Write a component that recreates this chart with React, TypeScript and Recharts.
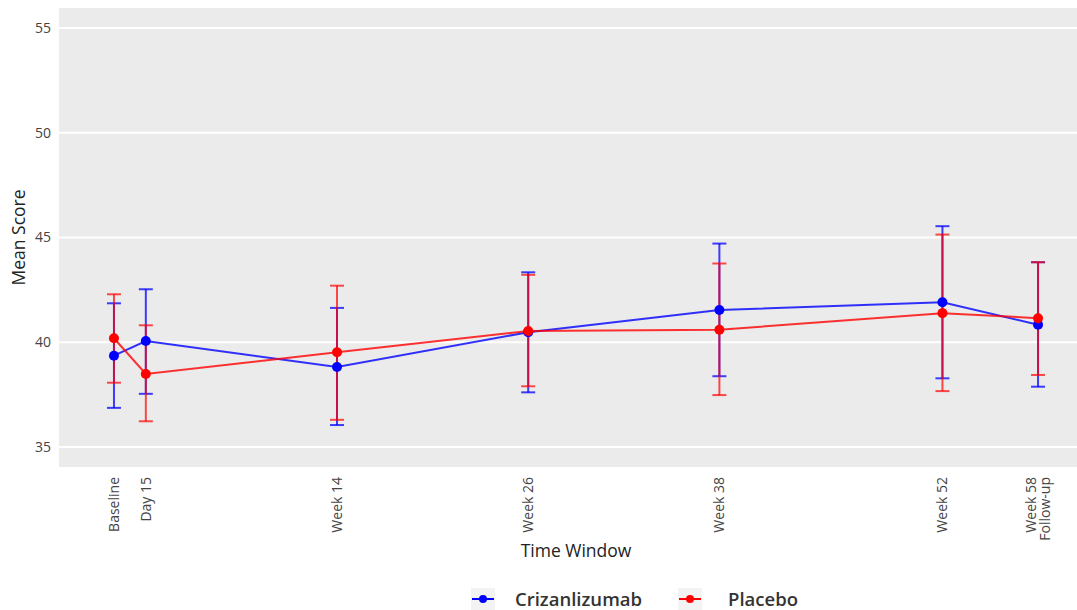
import React from 'react';
import {
  ComposedChart,
  Line,
  ErrorBar,
  XAxis,
  YAxis,
  CartesianGrid,
} from 'recharts';

const weeks = [0, 2, 14, 26, 38, 52, 58];
const tickLabels = ['Baseline', 'Day 15', 'Week 14', 'Week 26', 'Week 38', 'Week 52', 'Week 58\nFollow-up'];

const crizMean = [39.36, 40.06, 38.82, 40.48, 41.54, 41.91, 40.84];
const crizLower = [36.87, 37.54, 36.05, 37.61, 38.38, 38.28, 37.88];
const crizUpper = [41.86, 42.53, 41.64, 43.34, 44.71, 45.54, 43.82];

const placMean = [40.19, 38.49, 39.52, 40.54, 40.6, 41.39, 41.15];
const placLower = [38.07, 36.23, 36.3, 37.9, 37.48, 37.67, 38.44];
const placUpper = [42.29, 40.81, 42.7, 43.22, 43.76, 45.14, 43.82];

const yTicks = [35, 40, 45, 50, 55];

const BLUE = '#0000ff';
const RED = '#ff0000';
const FONT = '"Open Sans", "Noto Sans", sans-serif';

const chartData = weeks.map((w, i) => ({
  week: w,
  criz: crizMean[i],
  crizErr: [crizMean[i] - crizLower[i], crizUpper[i] - crizMean[i]],
  plac: placMean[i],
  placErr: [placMean[i] - placLower[i], placUpper[i] - placMean[i]],
}));

const XTick = (props: any) => {
  const { x, y, payload } = props;
  const idx = weeks.indexOf(payload.value);
  const lines = (tickLabels[idx] ?? '').split('\n');
  const start = -((lines.length - 1) * 1.0) / 2;
  return (
    <g transform={`translate(${x},${y + 1}) rotate(-90)`}>
      <text textAnchor="end" fill="#444" fontSize={14} fontFamily={FONT}>
        {lines.map((l, i) => (
          <tspan key={i} x={0} dy={i === 0 ? `${start + 0.35}em` : '1.0em'}>
            {l}
          </tspan>
        ))}
      </text>
    </g>
  );
};

const LegendIcon = ({ color }: { color: string }) => (
  <svg width={24} height={22} style={{ display: 'block' }}>
    <rect x={0} y={0} width={24} height={22} fill="#f3f3f3" />
    <line x1={1} y1={11} x2={23} y2={11} stroke={color} strokeWidth={2} />
    <circle cx={12} cy={11} r={4} fill={color} />
  </svg>
);

const App: React.FC = () => {
  return (
    <div
      style={{
        position: 'absolute',
        left: 0,
        top: 0,
        width: 1077,
        height: 610,
        overflow: 'hidden',
        background: '#fff',
        fontFamily: FONT,
      }}
    >
      <ComposedChart
        width={1093}
        height={610}
        data={chartData}
        margin={{ top: 7, right: 0, left: 0, bottom: 0 }}
      >
        <CartesianGrid
          horizontal
          vertical={false}
          stroke="#ffffff"
          strokeWidth={2}
          fill="#ebebeb"
          fillOpacity={1}
        />
        <XAxis
          dataKey="week"
          type="number"
          domain={[-3.45, 61.45]}
          ticks={weeks}
          interval={0}
          height={142}
          axisLine={false}
          tickLine={false}
          tickSize={6}
          tick={<XTick />}
          label={{
            value: 'Time Window',
            position: 'insideBottom',
            offset: 53,
            fill: '#222',
            fontSize: 17.5,
            fontFamily: FONT,
          }}
        />
        <YAxis
          type="number"
          domain={[34, 56]}
          ticks={yTicks}
          width={59}
          axisLine={false}
          tickLine={false}
          tick={{ fontSize: 14, fill: '#444', fontFamily: FONT }}
          label={{
            value: 'Mean Score',
            angle: -90,
            position: 'insideLeft',
            offset: 19,
            fill: '#222',
            fontSize: 17.5,
            fontFamily: FONT,
            style: { textAnchor: 'middle' },
          }}
        />
        <Line
          type="linear"
          dataKey="criz"
          stroke={BLUE}
          strokeOpacity={0.8}
          strokeWidth={2}
          dot={{ r: 5, fill: BLUE, stroke: 'none', fillOpacity: 1 }}
          activeDot={false}
          isAnimationActive={false}
          name="Crizanlizumab"
        >
          <ErrorBar
            dataKey="crizErr"
            direction="y"
            width={7}
            stroke={BLUE}
            strokeOpacity={0.75}
            strokeWidth={2}
            isAnimationActive={false}
          />
        </Line>
        <Line
          type="linear"
          dataKey="plac"
          stroke={RED}
          strokeOpacity={0.8}
          strokeWidth={2}
          dot={{ r: 5, fill: RED, stroke: 'none', fillOpacity: 1 }}
          activeDot={false}
          isAnimationActive={false}
          name="Placebo"
        >
          <ErrorBar
            dataKey="placErr"
            direction="y"
            width={7}
            stroke={RED}
            strokeOpacity={0.7}
            strokeWidth={2}
            isAnimationActive={false}
          />
        </Line>
      </ComposedChart>

      <div
        style={{
          position: 'absolute',
          left: 471,
          top: 587,
          height: 24,
          display: 'flex',
          alignItems: 'center',
          fontSize: 18.5,
          lineHeight: '22px',
          fontWeight: 600,
          color: '#333',
        }}
      >
        <LegendIcon color={BLUE} />
        <span style={{ marginLeft: 20 }}>Crizanlizumab</span>
        <span style={{ marginLeft: 36, display: 'block' }}>
          <LegendIcon color={RED} />
        </span>
        <span style={{ marginLeft: 26 }}>Placebo</span>
      </div>
    </div>
  );
};

export default App;
